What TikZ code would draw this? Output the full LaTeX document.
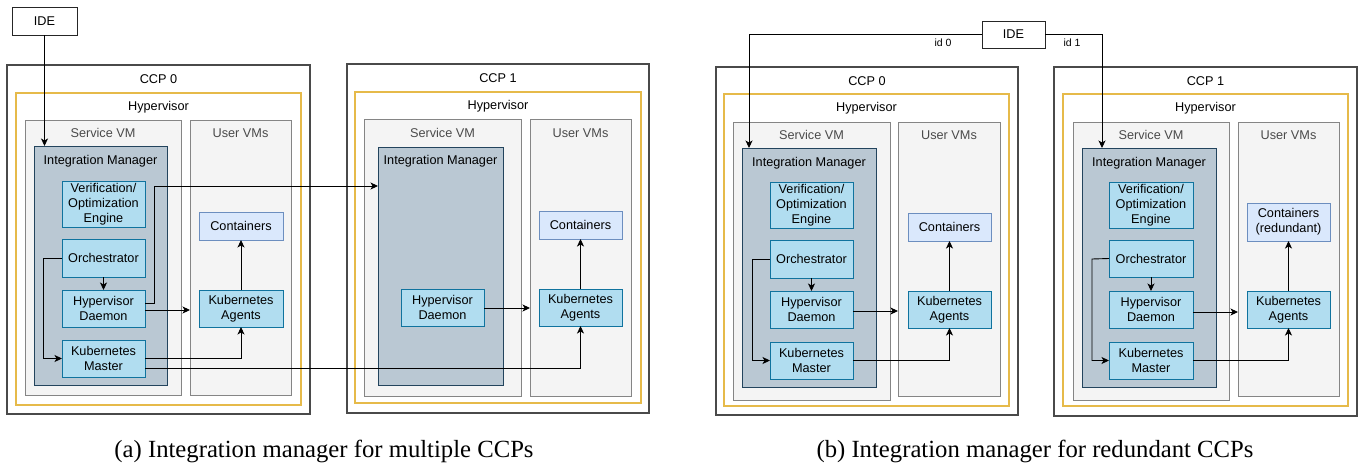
\documentclass[tikz,border=0pt]{standalone}
\usepackage{fontspec}
\setmainfont{Liberation Sans}
\newfontfamily\capfont{Liberation Serif}
\usetikzlibrary{arrows.meta,calc}
\definecolor{ccpstroke}{HTML}{4A4A4A}
\definecolor{hypcol}{HTML}{E6BA4A}
\definecolor{vmstroke}{HTML}{858585}
\definecolor{vmfill}{HTML}{F4F4F4}
\definecolor{vmtext}{HTML}{4A4A4A}
\definecolor{imfill}{HTML}{BAC8D3}
\definecolor{imstroke}{HTML}{23445D}
\definecolor{compfill}{HTML}{B1DDF0}
\definecolor{compstroke}{HTML}{10739E}
\definecolor{contfill}{HTML}{DAE8FC}
\definecolor{contstroke}{HTML}{6C8EBF}
\newcommand\bx[7]{\node[#6,anchor=north west,minimum width={(#4)-(#2)},minimum height={(#5)-(#3)}] (#1) at (#2,#3) {#7};}
\begin{document}
\begin{tikzpicture}[x=1pt,y=-1pt,
  font=\fontsize{12.7}{15}\selectfont,
  every node/.style={inner sep=0pt, outer sep=0pt},
  ccp/.style={draw=ccpstroke, fill=white, line width=1.1pt},
  hyp/.style={draw=hypcol, fill=white, line width=1.2pt},
  vm/.style={draw=vmstroke, fill=vmfill, line width=1pt},
  im/.style={draw=imstroke, fill=imfill, line width=1pt},
  comp/.style={draw=compstroke, fill=compfill, line width=1pt, align=center},
  cont/.style={draw=contstroke, fill=contfill, line width=1pt, align=center},
  ide/.style={draw=black!85, fill=white, line width=1pt},
  vmtitle/.style={text=vmtext},
  idlbl/.style={font=\fontsize{10.5}{12}\selectfont},
  conn/.style={draw=black, line width=0.9pt, -{Stealth[length=7.5pt,width=7pt,inset=2pt]}},
  captext/.style={font=\capfont\fontsize{24.7}{28}\selectfont, anchor=base}
]
\useasboundingbox (0,0) rectangle (1361,466);

%% ---------------- Panel (a) ----------------
\bx{ide0}{12}{7}{77}{35}{ide}{IDE}
% CCP 0
\bx{ccp0}{7}{65}{310}{414}{ccp}{}
\node (ccp0t) at ([yshift=-14pt]ccp0.north) {CCP 0};
\bx{hyp0}{16}{93}{301}{405}{hyp}{}
\node (hyp0t) at ([yshift=-14pt]hyp0.north) {Hypervisor};
\bx{svm0}{25}{120}{181}{395}{vm}{}
\node[vmtitle] (svm0t) at ([yshift=-13pt]svm0.north) {Service VM};
\bx{uvm0}{190}{120}{291}{395}{vm}{}
\node[vmtitle] (uvm0t) at ([yshift=-13pt]uvm0.north) {User VMs};
\bx{im0}{34}{146}{167}{385}{im}{}
\node (im0t) at ([yshift=-15pt]im0.north) {Integration Manager};
\bx{ver0}{62}{181}{145}{227}{comp}{Verification/\\Optimization\\Engine}
\bx{orch0}{62}{239}{145}{277}{comp}{Orchestrator}
\bx{hd0}{62}{290}{145}{327}{comp}{Hypervisor\\Daemon}
\bx{km0}{62}{340}{145}{377}{comp}{Kubernetes\\Master}
\bx{cont0}{199}{212}{283}{240}{cont}{Containers}
\bx{ka0}{199}{290}{283}{327}{comp}{Kubernetes\\Agents}
% CCP 1
\bx{ccp1}{347}{64}{649}{413}{ccp}{}
\node (ccp1t) at ([yshift=-14pt]ccp1.north) {CCP 1};
\bx{hyp1}{355}{92}{641}{403}{hyp}{}
\node (hyp1t) at ([yshift=-14pt]hyp1.north) {Hypervisor};
\bx{svm1}{364}{119}{521}{396}{vm}{}
\node[vmtitle] (svm1t) at ([yshift=-14pt]svm1.north) {Service VM};
\bx{uvm1}{530}{119}{631}{396}{vm}{}
\node[vmtitle] (uvm1t) at ([yshift=-14pt]uvm1.north) {User VMs};
\bx{im1}{378}{147}{503}{385}{im}{}
\node (im1t) at ([yshift=-14pt]im1.north) {Integration Manager};
\bx{hd1}{401}{289}{484}{326}{comp}{Hypervisor\\Daemon}
\bx{cont1}{539}{211}{622}{239}{cont}{Containers}
\bx{ka1}{539}{289}{622}{326}{comp}{Kubernetes\\Agents}

% connectors (a)
\draw[conn] (ide0.south) -- (ide0.south |- im0.north);
\draw[conn] (orch0.south) -- (hd0.north);
\draw[conn] (orch0.west) -- (43,258) |- (km0.west);
\draw[conn] (hd0.east |- 0,303) -| (154,186) -- (im1.west |- 0,186);
\draw[conn] (hd0.east |- 0,310) -- (uvm0.west |- 0,310);
\draw[conn] (km0.east) -| (ka0.south);
\draw[conn] (km0.east |- 0,368) -| (ka1.south);
\draw[conn] (ka0.north) -- (cont0.south);
\draw[conn] (hd1.east |- 0,308) -- (uvm1.west |- 0,308);
\draw[conn] (ka1.north) -- (cont1.south);

%% ---------------- Panel (b) ----------------
\bx{ideb}{982}{21}{1045}{48}{ide}{IDE}
% CCP 0
\bx{ccpb0}{716}{67}{1018}{415}{ccp}{}
\node (ccpb0t) at ([yshift=-14pt]ccpb0.north) {CCP 0};
\bx{hypb0}{724}{94}{1009}{406}{hyp}{}
\node (hypb0t) at ([yshift=-14pt]hypb0.north) {Hypervisor};
\bx{svmb0}{733}{122}{890}{400}{vm}{}
\node[vmtitle] (svmb0t) at ([yshift=-13pt]svmb0.north) {Service VM};
\bx{uvmb0}{898}{122}{1000}{396}{vm}{}
\node[vmtitle] (uvmb0t) at ([yshift=-13pt]uvmb0.north) {User VMs};
\bx{imb0}{742}{148}{876}{387}{im}{}
\node (imb0t) at ([yshift=-15pt]imb0.north) {Integration Manager};
\bx{verb0}{770}{182}{853}{228}{comp}{Verification/\\Optimization\\Engine}
\bx{orchb0}{770}{240}{853}{278}{comp}{Orchestrator}
\bx{hdb0}{770}{291}{853}{328}{comp}{Hypervisor\\Daemon}
\bx{kmb0}{770}{342}{853}{379}{comp}{Kubernetes\\Master}
\bx{contb0}{908}{213}{991}{241}{cont}{Containers}
\bx{kab0}{908}{291}{991}{328}{comp}{Kubernetes\\Agents}
% CCP 1
\bx{ccpb1}{1054}{67}{1357}{416}{ccp}{}
\node (ccpb1t) at ([yshift=-14pt]ccpb1.north) {CCP 1};
\bx{hypb1}{1063}{94}{1348}{406}{hyp}{}
\node (hypb1t) at ([yshift=-14pt]hypb1.north) {Hypervisor};
\bx{svmb1}{1073}{122}{1229}{400}{vm}{}
\node[vmtitle] (svmb1t) at ([yshift=-13pt]svmb1.north) {Service VM};
\bx{uvmb1}{1238}{122}{1339}{396}{vm}{}
\node[vmtitle] (uvmb1t) at ([yshift=-13pt]uvmb1.north) {User VMs};
\bx{imb1}{1082}{148}{1216}{387}{im}{}
\node (imb1t) at ([yshift=-15pt]imb1.north) {Integration Manager};
\bx{verb1}{1109}{182}{1193}{228}{comp}{Verification/\\Optimization\\Engine}
\bx{orchb1}{1109}{240}{1193}{277}{comp}{Orchestrator}
\bx{hdb1}{1109}{291}{1193}{328}{comp}{Hypervisor\\Daemon}
\bx{kmb1}{1109}{342}{1193}{379}{comp}{Kubernetes\\Master}
\bx{contb1}{1247}{203}{1330}{241}{cont}{Containers\\(redundant)}
\bx{kab1}{1247}{291}{1330}{328}{comp}{Kubernetes\\Agents}

% connectors (b)
\draw[conn] (ideb.west) -| ([xshift=7pt]imb0.north west);
\draw[conn] (ideb.east) -| ([xshift=20pt]imb1.north west);
\node[idlbl] (id0) at (943,43) {id 0};
\node[idlbl] (id1) at (1072,43) {id 1};

\draw[conn] (orchb0.south) -- (hdb0.north);
\draw[conn] (orchb0.west) -- (752,259) |- (kmb0.west);
\draw[conn] (hdb0.east |- 0,311) -- (uvmb0.west |- 0,311);
\draw[conn] (kmb0.east) -| (kab0.south);
\draw[conn] (kab0.north) -- (contb0.south);

\draw[conn] (orchb1.south) -- (hdb1.north);
\draw[conn] (orchb1.west) -- (1092,259) |- (kmb1.west);
\draw[conn] (hdb1.east |- 0,312) -- (uvmb1.west |- 0,312);
\draw[conn] (kmb1.east) -| (kab1.south);
\draw[conn] (kab1.north) -- (contb1.south);

%% captions
\node[captext] (capa) at (324,457) {(a) Integration manager for multiple CCPs};
\node[captext] (capb) at (1035,457) {(b) Integration manager for redundant CCPs};
\end{tikzpicture}
\end{document}
